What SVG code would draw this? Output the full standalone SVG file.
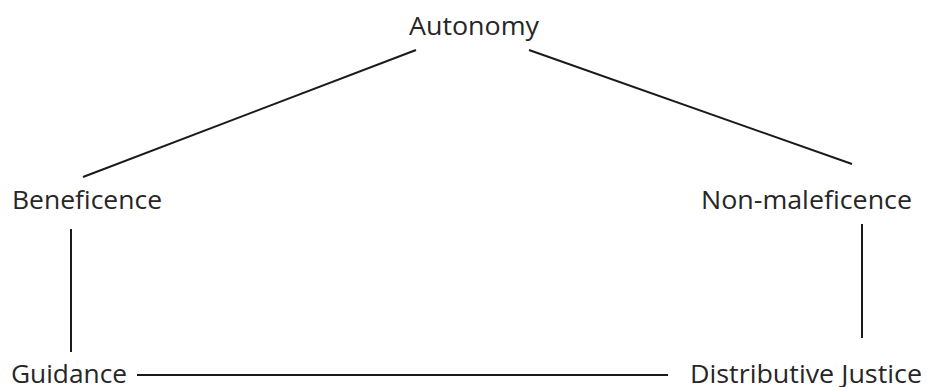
<svg xmlns="http://www.w3.org/2000/svg" width="927" height="387" viewBox="0 0 927 387">
<style>
.lbl{font-family:"Open Sans","Noto Sans","Liberation Sans",sans-serif;font-size:26px;fill:#262626;}
.ln{stroke:#1a1a1a;stroke-width:2;fill:none;}
</style>
<rect width="927" height="387" fill="#fff"/>
<g id="connectors">
<line class="ln" x1="416" y1="50" x2="83" y2="177"/>
<line class="ln" x1="529" y1="50" x2="852" y2="164"/>
<line class="ln" x1="71" y1="229" x2="71" y2="352"/>
<line class="ln" x1="862" y1="224" x2="862" y2="338"/>
<line class="ln" x1="137" y1="375" x2="668" y2="375"/>
</g>
<g id="autonomy"><text class="lbl" x="409" y="35" textLength="130" lengthAdjust="spacingAndGlyphs">Autonomy</text></g>
<g id="beneficence"><text class="lbl" x="12" y="209" textLength="150" lengthAdjust="spacingAndGlyphs">Beneficence</text></g>
<g id="non-maleficence"><text class="lbl" x="701" y="209" textLength="211" lengthAdjust="spacingAndGlyphs">Non-maleficence</text></g>
<g id="guidance"><text class="lbl" x="11" y="383" textLength="116" lengthAdjust="spacingAndGlyphs">Guidance</text></g>
<g id="distributive-justice"><text class="lbl" x="690" y="383" textLength="232" lengthAdjust="spacingAndGlyphs">Distributive Justice</text></g>
</svg>
